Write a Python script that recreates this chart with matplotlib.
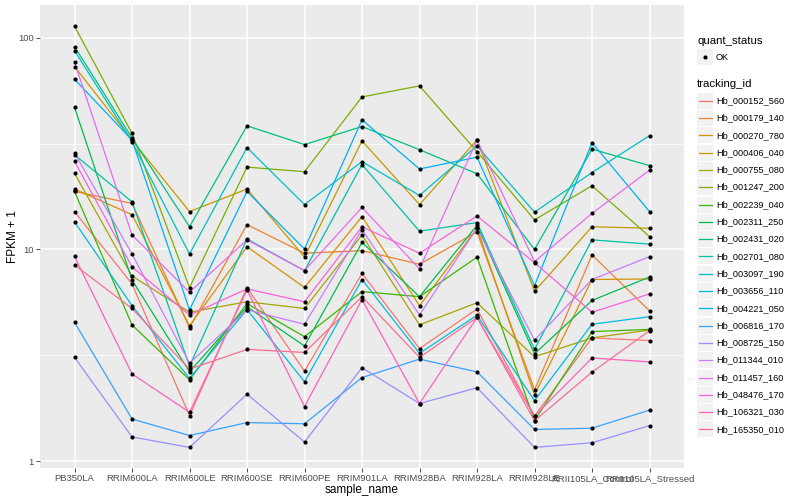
import matplotlib
matplotlib.use("Agg")
import matplotlib.pyplot as plt
from matplotlib.patches import Rectangle
from matplotlib.lines import Line2D

plt.rcParams["font.family"] = ["Liberation Sans", "DejaVu Sans"]

samples = ["PB350LA", "RRIM600LA", "RRIM600LE", "RRIM600SE", "RRIM600PE", "RRIM901LA",
           "RRIM928BA", "RRIM928LA", "RRIM928LE", "RRII105LA_Control", "RRII105LA_Stressed"]

tracking_ids = ["Hb_000152_560", "Hb_000179_140", "Hb_000270_780", "Hb_000406_040",
                "Hb_000755_080", "Hb_001247_200", "Hb_002239_040", "Hb_002311_250",
                "Hb_002431_020", "Hb_002701_080", "Hb_003097_190", "Hb_003656_110",
                "Hb_004221_050", "Hb_006816_170", "Hb_008725_150", "Hb_011344_010",
                "Hb_011457_160", "Hb_048476_170", "Hb_106321_030", "Hb_165350_010"]

# ggplot hue palette for 20 levels
colors = ["#F8766D", "#EA8331", "#D89000", "#C09B00", "#A3A500", "#7CAE00", "#39B600",
          "#00BB4E", "#00BF7D", "#00C1A3", "#00BFC4", "#00BAE0", "#00B0F6", "#35A2FF",
          "#9590FF", "#C77CFF", "#E76BF3", "#FA62DB", "#FF62BC", "#FF6C91"]

# FPKM + 1, one list per tracking_id, in sample order
hb_000152_560 = [15.1, 6.87, 1.64, 6.60, 2.66, 7.70, 3.40, 5.23, 1.63, 3.82, 3.71]
hb_000179_140 = [18.8, 16.5, 4.27, 13.1, 9.60, 9.87, 8.51, 12.1, 2.17, 9.42, 5.13]
hb_000270_780 = [19.3, 14.6, 4.36, 10.3, 6.61, 14.3, 5.42, 12.6, 2.06, 7.21, 7.25]
hb_000406_040 = [73.2, 32.9, 15.1, 19.3, 9.21, 32.6, 16.3, 32.9, 6.34, 12.8, 12.6]
hb_000755_080 = [22.9, 7.49, 5.05, 5.66, 5.26, 11.7, 4.40, 5.60, 3.11, 3.82, 4.16]
hb_001247_200 = [113.6, 35.4, 6.60, 24.5, 23.3, 52.6, 59.3, 29.0, 13.8, 20.0, 11.5]
hb_002239_040 = [18.8, 4.40, 2.42, 5.55, 3.87, 6.32, 5.98, 9.19, 1.55, 4.09, 4.19]
hb_002311_250 = [47.0, 7.17, 2.64, 5.36, 3.50, 10.8, 5.98, 13.0, 3.21, 5.74, 7.41]
hb_002431_020 = [91.0, 33.6, 12.8, 38.4, 31.3, 38.1, 29.6, 22.8, 10.0, 29.8, 24.9]
hb_002701_080 = [28.0, 16.8, 2.81, 11.2, 7.94, 25.2, 12.2, 13.4, 3.37, 11.1, 10.6]
hb_003097_190 = [87.1, 32.3, 9.52, 30.3, 16.3, 26.0, 18.0, 30.9, 15.0, 23.1, 34.5]
hb_003656_110 = [13.5, 5.43, 2.46, 5.20, 2.37, 7.21, 3.23, 4.89, 1.93, 4.43, 4.81]
hb_004221_050 = [63.8, 32.9, 5.18, 18.8, 10.05, 41.0, 24.0, 27.3, 6.74, 32.0, 15.1]
hb_006816_170 = [4.53, 1.58, 1.32, 1.52, 1.50, 2.48, 3.03, 2.64, 1.41, 1.43, 1.74]
hb_008725_150 = [3.09, 1.30, 1.16, 2.07, 1.23, 2.76, 1.87, 2.22, 1.16, 1.22, 1.47]
hb_011344_010 = [28.6, 9.52, 2.90, 5.18, 4.43, 12.4, 4.90, 12.6, 3.73, 7.21, 9.24]
hb_011457_160 = [76.8, 11.7, 6.28, 11.1, 7.94, 15.8, 8.09, 32.9, 8.76, 14.8, 23.7]
hb_048476_170 = [26.1, 8.27, 4.90, 6.51, 5.66, 12.8, 9.60, 14.4, 8.66, 5.05, 6.16]
hb_106321_030 = [9.27, 2.58, 1.70, 6.44, 1.81, 5.80, 1.87, 4.77, 1.63, 3.07, 2.94]
hb_165350_010 = [8.45, 5.26, 2.72, 3.37, 3.26, 5.98, 3.09, 4.77, 1.55, 2.63, 4.13]

series = [hb_000152_560, hb_000179_140, hb_000270_780, hb_000406_040, hb_000755_080,
          hb_001247_200, hb_002239_040, hb_002311_250, hb_002431_020, hb_002701_080,
          hb_003097_190, hb_003656_110, hb_004221_050, hb_006816_170, hb_008725_150,
          hb_011344_010, hb_011457_160, hb_048476_170, hb_106321_030, hb_165350_010]

W, H = 800, 500
fig = plt.figure(figsize=(8, 5), dpi=100)
ax = fig.add_axes([40 / W, 32 / H, 644 / W, 463 / H])
ax.set_facecolor("#EBEBEB")

x = list(range(len(samples)))
for vals, col in zip(series, colors):
    ax.plot(x, vals, color=col, lw=0.9, zorder=2, solid_capstyle="butt")
for vals in series:
    ax.plot(x, vals, "o", color="black", ms=3.0, mew=0, zorder=3)

ax.set_yscale("log")
ax.set_ylim(0.927, 143)
ax.set_xlim(-0.6, 10.6)
ax.set_yticks([1, 10, 100])
ax.set_yticklabels(["1", "10", "100"])
ax.set_yticks([10 ** 0.5, 10 ** 1.5], minor=True)
ax.set_yticklabels([], minor=True)
ax.set_xticks(x)
ax.set_xticklabels(samples)

ax.grid(which="major", color="white", lw=1.1, zorder=0)
ax.grid(which="minor", axis="y", color="white", lw=0.55, zorder=0)
ax.set_axisbelow(True)
for s in ax.spines.values():
    s.set_visible(False)
ax.tick_params(which="major", length=3, width=0.6, color="#333333",
               labelsize=6.8, labelcolor="#4D4D4D", pad=1.5)
ax.tick_params(which="minor", length=0)
ax.set_xlabel("sample_name", fontsize=8.5)
ax.set_ylabel("FPKM + 1", fontsize=8.5)
ax.xaxis.set_label_coords(0.5, -(490 - 468) / 463, transform=ax.transAxes)
ax.xaxis.label.set_va("center")
ax.yaxis.set_label_coords(-(40 - 13) / 644, 0.5)
ax.yaxis.label.set_va("center")


def fx(px):
    return px / W


def fy(py):
    return 1 - py / H


# legend: quant_status
fig.text(fx(697), fy(41), "quant_status", fontsize=8.2, va="center", ha="left")
fig.patches.append(Rectangle((fx(697), fy(65)), 16 / W, 16 / H, transform=fig.transFigure,
                             facecolor="#F2F2F2", edgecolor="none"))
fig.lines.append(Line2D([fx(705)], [fy(57)], marker="o", color="black", ms=3.0, mew=0,
                        transform=fig.transFigure))
fig.text(fx(716), fy(57), "OK", fontsize=6.6, va="center", ha="left")

# legend: tracking_id
fig.text(fx(697), fy(84), "tracking_id", fontsize=8.2, va="center", ha="left")
for i, (lab, col) in enumerate(zip(tracking_ids, colors)):
    yc = 100.7 + i * 17.3
    fig.patches.append(Rectangle((fx(697), fy(yc + 8)), 16 / W, 16 / H,
                                 transform=fig.transFigure, facecolor="#F2F2F2",
                                 edgecolor="none"))
    fig.lines.append(Line2D([fx(698.5), fx(711.5)], [fy(yc), fy(yc)], color=col, lw=0.9,
                            transform=fig.transFigure))
    fig.text(fx(716), fy(yc), lab, fontsize=6.6, va="center", ha="left")

fig.savefig("out.png", dpi=100)
